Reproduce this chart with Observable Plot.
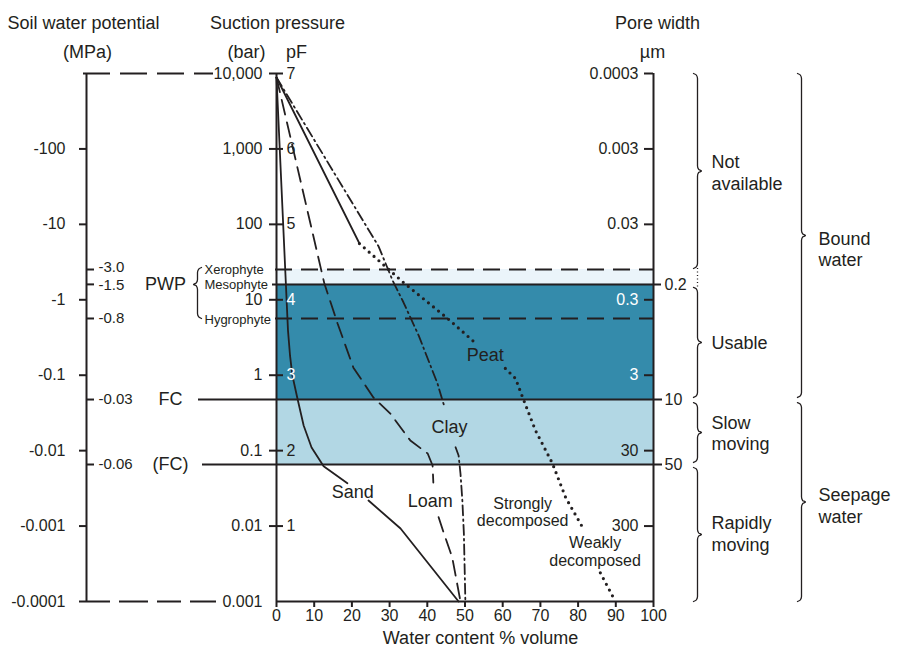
<!DOCTYPE html>
<html>
<head>
<meta charset="utf-8">
<script src="https://cdn.jsdelivr.net/npm/d3@7"></script>
<script src="https://cdn.jsdelivr.net/npm/@observablehq/plot@0.6"></script>
<style>
  html, body { margin: 0; padding: 0; background: #fff; }
  #chart svg { display: block; }
</style>
</head>
<body>
<div id="chart"></div>
<script>
// ---------- DATA ----------
// Suction pressure axis (bar) and pF
const barTicks  = [10000, 1000, 100, 10, 1, 0.1, 0.01, 0.001];
const barLabels = ["10,000", "1,000", "100", "10", "1", "0.1", "0.01", "0.001"];
const pfTicks   = [10000, 1000, 100, 10, 1, 0.1, 0.01];
const pfLabels  = ["7", "6", "5", "4", "3", "2", "1"];
// Soil water potential axis (MPa)
const mpaTicks  = [1000, 100, 10, 1, 0.1, 0.01, 0.001];
const mpaLabels = ["-100", "-10", "-1", "-0.1", "-0.01", "-0.001", "-0.0001"];
// Pore width axis (µm)
const poreTicks  = [10000, 1000, 100, 10, 1, 0.1, 0.01];
const poreLabels = ["0.0003", "0.003", "0.03", "0.3", "3", "30", "300"];
// Water content axis
const waterTicks = [0, 10, 20, 30, 40, 50, 60, 70, 80, 90, 100];

// Reference levels (bar)
const levelNames = ["Xerophyte", "Mesophyte", "Hygrophyte", "FC", "(FC)"];
const levelBar   = [25.2, 16.0, 5.65, 0.476, 0.0655];
const levelMPa   = ["-3.0", "-1.5", "-0.8", "-0.03", "-0.06"];
const levelPore  = [null, "0.2", null, "10", "50"];

// Shaded zones (bar)
const bandTop    = [25.2, 16.0, 0.476];
const bandBottom = [16.0, 0.476, 0.0655];
const bandFill   = ["#ebf4fa", "#348bab", "#b2d7e4"];

// Retention curves: water content (% vol) vs suction pressure (bar); null = gap for a label
const sandWater = [0, 3.05, 3.6, 4.2, 5.6, 7.2, 9.3, 12.5, 18.8, null, 24.4, 32.9, 48.3];
const sandBar   = [8850, 3.9, 1.8, 1.0, 0.48, 0.215, 0.11, 0.062, 0.037, null, 0.0218, 0.0093, 0.001];

const loamWater = [0, 12.7, 16.2, 20.4, 25.7, 30.2, 35.5, 40.1, 41.4, 41.6, null, 43.0, 44.4, 46.6, 48.4, 48.8];
const loamBar   = [8850, 16.4, 4.85, 1.26, 0.507, 0.31, 0.136, 0.0916, 0.0636, 0.0378, null, 0.0131, 0.008, 0.00386, 0.00128, 0.001];

const clayWater = [0, 27.1, 30.8, 33.7, 37.7, 42.7, 44.6, null, 47.5, 48.3, 48.8, 49.3, 49.7, 50.1];
const clayBar   = [8850, 50.8, 18.0, 9.2, 3.37, 0.776, 0.373, null, 0.111, 0.0863, 0.0498, 0.0218, 0.008, 0.001];

const peatSolidWater = [0, 22.0];
const peatSolidBar   = [8850, 55.7];
const peatWater = [22.0, 33.7, 45.4, 52.3, null, 60.7, 63.4, 65.3, 68.7, 73.2, 76.7, 81.2, null, 85.9, 89.9];
const peatBar   = [55.7, 16.9, 5.65, 2.80, null, 1.23, 0.906, 0.507, 0.185, 0.0676, 0.0239, 0.0096, null, 0.0024, 0.001];

// Curve labels
const curveLabelText  = ["Sand", "Loam", "Clay", "Peat"];
const curveLabelWater = [20.2, 40.8, 45.9, 55.4];
const curveLabelBar   = [0.0279, 0.0212, 0.203, 1.82];
const peatNoteText  = ["Strongly\ndecomposed", "Weakly\ndecomposed"];
const peatNoteWater = [65.3, 84.5];
const peatNoteBar   = [0.0154, 0.0046];

// Water classes (right braces), in bar
const classText   = ["Not\navailable", "Usable", "Slow\nmoving", "Rapidly\nmoving"];
const classTop    = [10000, 14.6, 0.434, 0.0598];
const classBottom = [26.0, 0.507, 0.0697, 0.001];
const classLabelBar = [502, 2.72, 0.174, 0.008];
const groupText   = ["Bound\nwater", "Seepage\nwater"];
const groupTop    = [10000, 0.434];
const groupBottom = [0.507, 0.001];
const groupLabelBar = [47.9, 0.0188];

// ---------- LAYOUT ----------
const W = 898, H = 654;
const M = {top: 73, right: 245, bottom: 53, left: 276};
const kx = (W - M.left - M.right) / 100;   // px per % water
const ky = (H - M.top - M.bottom) / 7;     // px per decade
const dX = px => px / kx;                   // pixel offset -> x units
const shiftY = (v, px) => v * Math.pow(10, -px / ky); // move a bar value down by px

const ink = "#231f20";
const font = "'Liberation Sans', Arial, Helvetica, sans-serif";

const xMPa = dX(86 - M.left);      // soil water potential axis
const xClassBrace = dX(697 - M.left);
const xGroupBrace = dX(801 - M.left);
const xClassText  = dX(711 - M.left);
const xGroupText  = dX(818 - M.left);
const xPWPBrace   = dX(197 - M.left);

function series(xs, ys) { return xs.map((x, i) => ({x, y: ys[i]})); }

function brace(id, x0, yTop, yBot, dir, yMid) {
  const ym = yMid ?? Math.sqrt(yTop * yBot);
  const w = 4;
  const pts = [
    [-w, 0, yTop], [-1.2, 1.5, yTop], [0, 5, yTop],
    [0, -5, ym], [1.2, -1.5, ym], [w, 0, ym], [1.2, 1.5, ym], [0, 5, ym],
    [0, -5, yBot], [-1.2, -1.5, yBot], [-w, 0, yBot]
  ];
  return pts.map(([dx, dy, b]) => ({id, x: x0 + dir * dX(dx), y: shiftY(b, dy)}));
}

const braces = [
  ...classTop.map((t, i) => brace("c" + i, xClassBrace, t, classBottom[i], 1)),
  ...groupTop.map((t, i) => brace("g" + i, xGroupBrace, t, groupBottom[i], 1)),
  brace("pwp", xPWPBrace, shiftY(levelBar[0], -2), levelBar[2], -1, levelBar[1])
].flat();

const levels = levelNames.map((name, i) => ({
  name, bar: levelBar[i], mpa: levelMPa[i], pore: levelPore[i],
  dashed: name === "Xerophyte" || name === "Hygrophyte"
}));
const levelX1 = {"Xerophyte": -dX(1), "Mesophyte": -dX(4), "Hygrophyte": -dX(1),
                 "FC": dX(198 - M.left), "(FC)": dX(202 - M.left)};
const levelX2 = {"Xerophyte": 100, "Mesophyte": 100 + dX(8), "Hygrophyte": 100,
                 "FC": 100 + dX(9), "(FC)": 100 + dX(9)};
// small vertical nudges (px) for the crowded MPa labels
const mpaNudge = {"-3.0": -2, "-1.5": 0.5};

const txt = (opts) => ({fill: ink, fontSize: 16, ...opts});

const chart = Plot.plot({
  width: W, height: H,
  marginTop: M.top, marginRight: M.right, marginBottom: M.bottom, marginLeft: M.left,
  style: {fontFamily: font, background: "#fff", color: ink, overflow: "visible"},
  x: {domain: [0, 100], axis: null},
  y: {type: "log", domain: [0.001, 10000], axis: null},
  marks: [
    // shaded zones
    ...bandFill.map((c, i) => Plot.rect([i], {x1: 0, x2: 100, y1: () => bandTop[i], y2: () => bandBottom[i], fill: c})),

    // reference level lines
    Plot.ruleY(levels.filter(d => d.dashed), {y: "bar", x1: d => levelX1[d.name], x2: d => levelX2[d.name],
      stroke: ink, strokeWidth: 2, strokeDasharray: "17,9"}),
    Plot.ruleY(levels.filter(d => !d.dashed), {y: "bar", x1: d => levelX1[d.name], x2: d => levelX2[d.name],
      stroke: ink, strokeWidth: 2}),

    // retention curves
    Plot.line(series(sandWater, sandBar), {x: "x", y: "y", stroke: ink, strokeWidth: 1.8}),
    Plot.line(series(loamWater, loamBar), {x: "x", y: "y", stroke: ink, strokeWidth: 1.8, strokeDasharray: "15,8"}),
    Plot.line(series(clayWater, clayBar), {x: "x", y: "y", stroke: ink, strokeWidth: 1.8, strokeDasharray: "10,4,1.6,4"}),
    Plot.line(series(peatSolidWater, peatSolidBar), {x: "x", y: "y", stroke: ink, strokeWidth: 1.8}),
    Plot.line(series(peatWater, peatBar), {x: "x", y: "y", stroke: ink, strokeWidth: 3.2,
      strokeDasharray: "0,6.5", strokeLinecap: "round"}),

    // frame of the main chart
    Plot.ruleX([0, 100], {x: d => d, y1: 0.001, y2: 10000, stroke: ink, strokeWidth: 2}),
    Plot.ruleY([0.001], {y: d => d, x1: 0, x2: 100, stroke: ink, strokeWidth: 2}),

    // suction pressure axis (bar / pF)
    Plot.ruleY(barTicks.slice(0, 7), {y: d => d, x1: -dX(7), x2: dX(7), stroke: ink, strokeWidth: 2}),
    Plot.text(barLabels, {...txt({}), x: -dX(14), y: (d, i) => barTicks[i], text: d => d, textAnchor: "end"}),
    Plot.text(pfLabels, {...txt({}), x: dX(10), y: (d, i) => pfTicks[i], text: d => d, textAnchor: "start",
      fill: d => (d === "4" || d === "3") ? "#ffffff" : ink}),

    // water content axis
    Plot.ruleX(waterTicks, {x: d => d, y1: 0.001, y2: shiftY(0.001, 6), stroke: ink, strokeWidth: 2}),
    Plot.text(waterTicks, {...txt({}), x: d => d, text: d => String(d), frameAnchor: "bottom", dy: 19}),
    Plot.text(["Water content % volume"], {...txt({fontSize: 18}), x: dX(480 - M.left), text: d => d,
      frameAnchor: "bottom", dy: 42}),

    // soil water potential axis (MPa)
    Plot.ruleX([0], {x: xMPa, y1: 0.001, y2: 10000, stroke: ink, strokeWidth: 2}),
    Plot.ruleY(mpaTicks, {y: d => d, x1: xMPa - dX(7), x2: xMPa, stroke: ink, strokeWidth: 2}),
    Plot.text(mpaLabels, {...txt({}), x: xMPa - dX(21), y: (d, i) => mpaTicks[i], text: d => d, textAnchor: "end"}),
    Plot.ruleY([10000], {y: d => d, x1: xMPa - dX(3), x2: dX(213 - M.left), stroke: ink, strokeWidth: 2, strokeDasharray: "27,10"}),
    Plot.ruleY([0.001], {y: d => d, x1: xMPa, x2: dX(216 - M.left), stroke: ink, strokeWidth: 2, strokeDasharray: "24,9,29,9"}),
    Plot.ruleY(levels, {y: "bar", x1: xMPa, x2: xMPa + dX(8), stroke: ink, strokeWidth: 2}),
    Plot.text(levels, {...txt({fontSize: 15}), x: xMPa + dX(12), y: d => shiftY(d.bar, mpaNudge[d.mpa] ?? 0),
      text: "mpa", textAnchor: "start"}),

    // PWP / FC labels
    Plot.text(["PWP"], {...txt({fontSize: 18}), x: dX(165 - M.left), y: () => levelBar[1], text: d => d}),
    Plot.text(levels.slice(0, 3), {...txt({fontSize: 13}), x: dX(204 - M.left), y: d => d.name === "Hygrophyte" ? shiftY(d.bar, 1.5) : d.bar,
      text: "name", textAnchor: "start"}),
    Plot.text(levels.slice(3), {...txt({fontSize: 18}), x: dX(170 - M.left), y: "bar", text: "name"}),

    // pore width axis (µm)
    Plot.ruleY(poreTicks, {y: d => d, x1: 100 - dX(9), x2: 100, stroke: ink, strokeWidth: 2}),
    Plot.text(poreLabels, {...txt({}), x: 100 - dX(15), y: (d, i) => poreTicks[i], text: d => d, textAnchor: "end",
      fill: d => (d === "0.3" || d === "3") ? "#ffffff" : ink}),
    Plot.text(levels.filter(d => d.pore), {...txt({}), x: 100 + dX(11), y: "bar", text: "pore", textAnchor: "start"}),

    // headers
    Plot.text(["Soil water potential"], {...txt({fontSize: 18}), x: dX(83 - M.left), text: d => d, frameAnchor: "top", dy: -57}),
    Plot.text(["(MPa)"], {...txt({fontSize: 18}), x: dX(87 - M.left), text: d => d, frameAnchor: "top", dy: -28}),
    Plot.text(["Suction pressure"], {...txt({fontSize: 18}), x: dX(277 - M.left), text: d => d, frameAnchor: "top", dy: -57}),
    Plot.text(["(bar)"], {...txt({fontSize: 18}), x: dX(246 - M.left), text: d => d, frameAnchor: "top", dy: -28}),
    Plot.text(["pF"], {...txt({fontSize: 18}), x: dX(296 - M.left), text: d => d, frameAnchor: "top", dy: -28}),
    Plot.text(["Pore width"], {...txt({fontSize: 18}), x: dX(657 - M.left), text: d => d, frameAnchor: "top", dy: -57}),
    Plot.text(["µm"], {...txt({fontSize: 18}), x: dX(652 - M.left), text: d => d, frameAnchor: "top", dy: -28}),

    // curve labels
    Plot.text(curveLabelText, {...txt({fontSize: 18}), x: (d, i) => curveLabelWater[i], y: (d, i) => curveLabelBar[i], text: d => d}),
    Plot.text(peatNoteText, {...txt({fontSize: 16}), x: (d, i) => peatNoteWater[i], y: (d, i) => peatNoteBar[i], text: d => d, lineHeight: 1.1}),

    // braces
    Plot.line(braces, {x: "x", y: "y", z: "id", stroke: ink, strokeWidth: 1.3, curve: "monotone-y"}),
    Plot.ruleX([0], {x: xClassBrace, y1: classBottom[0], y2: classTop[1], stroke: ink, strokeWidth: 1.3, strokeDasharray: "1,2.5"}),
    Plot.text(classText, {...txt({fontSize: 18}), x: xClassText, y: (d, i) => classLabelBar[i], text: d => d,
      textAnchor: "start", lineHeight: 1.22}),
    Plot.text(groupText, {...txt({fontSize: 18}), x: xGroupText, y: (d, i) => groupLabelBar[i], text: d => d,
      textAnchor: "start", lineHeight: 1.22})
  ]
});
document.getElementById("chart").appendChild(chart);
</script>
</body>
</html>
